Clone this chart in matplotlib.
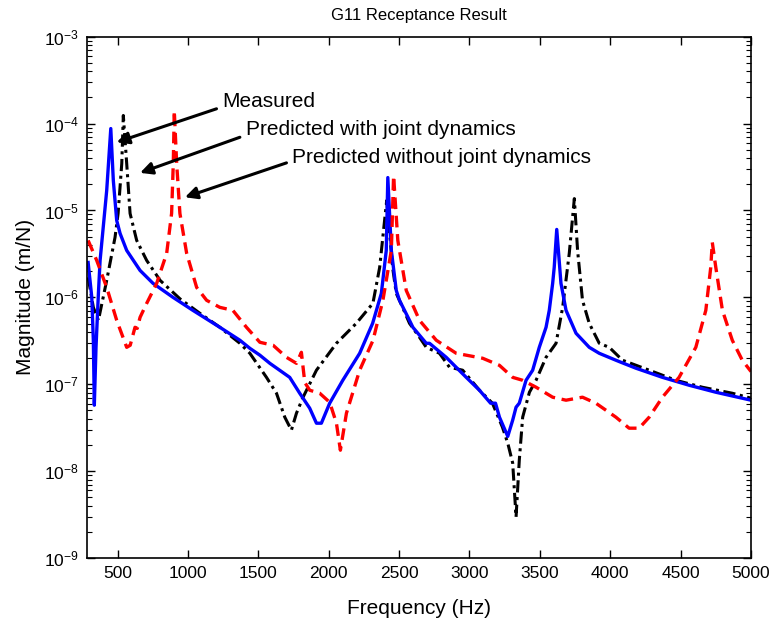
import matplotlib
matplotlib.use("Agg")
import matplotlib.pyplot as plt
from matplotlib.ticker import LogLocator, FixedLocator, NullFormatter

plt.rcParams['font.family'] = ['Liberation Sans', 'DejaVu Sans']
plt.rcParams['mathtext.default'] = 'regular'

# Measured (black dash-dot)
meas_f = [291, 328, 364, 423, 482, 504, 530, 541, 565, 589, 636, 707, 802, 944, 1085, 1227,
          1369, 1440, 1558, 1629, 1688, 1735, 1771, 1818, 1913, 2055, 2196, 2314, 2362, 2397,
          2412, 2433, 2454, 2480, 2525, 2574, 2645, 2693, 2787, 2858, 2952, 3071, 3163, 3234,
          3272, 3307, 3331, 3354, 3378, 3426, 3473, 3544, 3615, 3662, 3709, 3745, 3768, 3803,
          3851, 3922, 3993, 4087, 4277, 4466, 4654, 4867, 5000]
meas_m = [1.70e-6, 7.67e-7, 5.44e-7, 1.57e-6, 4.89e-6, 9.24e-6, 3.47e-5, 1.24e-4, 3.47e-5,
          9.24e-6, 4.52e-6, 2.66e-6, 1.57e-6, 9.60e-7, 6.55e-7, 4.52e-7, 2.96e-7, 2.27e-7,
          1.20e-7, 7.88e-8, 4.18e-8, 2.96e-8, 4.64e-8, 7.09e-8, 1.45e-7, 2.96e-7, 5.02e-7,
          8.53e-7, 2.21e-6, 7.67e-6, 1.30e-5, 5.44e-6, 2.21e-6, 1.11e-6, 7.67e-7, 5.02e-7,
          3.47e-7, 2.66e-7, 2.27e-7, 1.57e-7, 1.45e-7, 8.53e-8, 6.05e-8, 3.21e-8, 2.10e-8,
          1.24e-8, 2.96e-9, 1.34e-8, 4.18e-8, 8.09e-8, 1.11e-7, 2.04e-7, 2.96e-7, 7.67e-7,
          3.21e-6, 1.37e-5, 3.47e-6, 9.24e-7, 5.02e-7, 2.96e-7, 2.66e-7, 1.89e-7, 1.45e-7,
          1.11e-7, 9.24e-8, 7.88e-8, 6.91e-8]

# Predicted with joint dynamics (blue solid)
with_f = [291, 317, 328, 335, 347, 364, 376, 423, 452, 470, 494, 518, 565, 660, 752, 894, 1035,
          1227, 1369, 1440, 1511, 1582, 1723, 1794, 1865, 1913, 1948, 2007, 2100, 2220, 2312,
          2374, 2409, 2420, 2445, 2480, 2503, 2574, 2598, 2693, 2716, 2835, 2977, 3071, 3150,
          3185, 3213, 3272, 3307, 3331, 3354, 3402, 3449, 3496, 3544, 3567, 3591, 3602, 3620,
          3650, 3686, 3757, 3851, 3922, 4040, 4076, 4182, 4371, 4560, 4750, 5000]
with_m = [2.52e-6, 1.00e-6, 3.21e-7, 5.74e-8, 2.66e-7, 1.11e-6, 2.66e-6, 1.70e-5, 8.76e-5,
          2.21e-5, 7.67e-6, 5.44e-6, 3.47e-6, 2.04e-6, 1.45e-6, 1.00e-6, 7.09e-7, 4.52e-7,
          3.21e-7, 2.59e-7, 2.16e-7, 1.74e-7, 1.20e-7, 7.88e-8, 5.30e-8, 3.56e-8, 3.56e-8,
          6.05e-8, 1.11e-7, 2.27e-7, 5.02e-7, 1.11e-6, 3.47e-6, 2.39e-5, 3.47e-6, 1.20e-6,
          9.24e-7, 5.44e-7, 4.52e-7, 2.96e-7, 2.96e-7, 2.04e-7, 1.20e-7, 8.53e-8, 6.05e-8,
          6.05e-8, 4.18e-8, 2.51e-8, 3.86e-8, 5.44e-8, 6.05e-8, 1.11e-7, 1.45e-7, 2.66e-7,
          4.52e-7, 7.09e-7, 1.45e-6, 2.21e-6, 6.05e-6, 1.45e-6, 7.09e-7, 3.86e-7, 2.66e-7,
          2.27e-7, 1.89e-7, 1.79e-7, 1.53e-7, 1.20e-7, 9.74e-8, 8.09e-8, 6.55e-8]

# Predicted without joint dynamics (red dashed)
without_f = [291, 352, 423, 494, 565, 590, 624, 640, 660, 707, 778, 849, 884, 896, 903, 920, 943,
             991, 1062, 1133, 1227, 1319, 1416, 1511, 1605, 1700, 1771, 1806, 1830, 1865, 1936,
             2007, 2055, 2083, 2126, 2220, 2315, 2385, 2445, 2461, 2491, 2551, 2645, 2764, 2906,
             3094, 3213, 3307, 3378, 3473, 3591, 3686, 3803, 3898, 4040, 4134, 4205, 4277, 4371,
             4489, 4608, 4679, 4714, 4725, 4750, 4797, 4867, 4938, 5000]
without_m = [4.52e-6, 2.66e-6, 1.30e-6, 5.44e-7, 2.66e-7, 2.81e-7, 4.52e-7, 4.40e-7, 5.89e-7,
             8.53e-7, 1.45e-6, 3.21e-6, 9.24e-6, 3.47e-5, 1.41e-4, 3.47e-5, 9.24e-6, 3.21e-6,
             1.30e-6, 9.24e-7, 7.67e-7, 7.09e-7, 4.52e-7, 3.04e-7, 2.81e-7, 2.04e-7, 1.74e-7,
             2.33e-7, 1.05e-7, 8.53e-8, 7.88e-8, 6.20e-8, 3.56e-8, 1.74e-8, 4.64e-8, 1.45e-7,
             3.21e-7, 9.24e-7, 3.47e-6, 2.52e-5, 4.52e-6, 1.20e-6, 5.44e-7, 3.21e-7, 2.27e-7,
             1.99e-7, 1.65e-7, 1.20e-7, 1.11e-7, 9.24e-8, 7.09e-8, 6.55e-8, 7.09e-8, 6.05e-8,
             4.18e-8, 3.12e-8, 3.12e-8, 4.18e-8, 7.09e-8, 1.20e-7, 2.66e-7, 7.09e-7, 2.21e-6,
             4.29e-6, 2.21e-6, 7.09e-7, 3.21e-7, 1.89e-7, 1.40e-7]

x_ticks = [500, 1000, 1500, 2000, 2500, 3000, 3500, 4000, 4500, 5000]
labels = ["Measured", "Predicted with joint dynamics", "Predicted without joint dynamics"]

fig = plt.figure(figsize=(7.73, 6.19), dpi=100)
ax = fig.add_axes([87/773, 1 - 558/619, (751-87)/773, (558-36.7)/619])

ax.plot(meas_f, meas_m, color='black', lw=2.2, dashes=(4, 1.5, 1, 1.5))
ax.plot(with_f, with_m, color='blue', lw=2.4, solid_joinstyle='round')
ax.plot(without_f, without_m, color='red', lw=2.4, dashes=(3.5, 2))

ax.set_yscale('log')
ax.set_xlim(283, 5000)
ax.set_ylim(1e-9, 1e-3)
ax.xaxis.set_major_locator(FixedLocator(x_ticks))
ax.set_xticklabels([str(t) for t in x_ticks])
ax.yaxis.set_major_locator(LogLocator(base=10, numticks=10))
ax.yaxis.set_minor_locator(LogLocator(base=10, subs=range(2, 10), numticks=20))
ax.yaxis.set_minor_formatter(NullFormatter())
ax.xaxis.get_offset_text().set_visible(False)
ax.yaxis.get_offset_text().set_visible(False)

ax.tick_params(which='major', direction='in', length=6, width=1.0, top=True, right=True,
               labelsize=12.5, pad=6)
ax.tick_params(which='minor', direction='in', length=3.5, width=0.8, top=True, right=True)
for s in ax.spines.values():
    s.set_linewidth(1.2)

ax.set_xlabel("Frequency (Hz)", fontsize=15, labelpad=13)
ax.set_ylabel("Magnitude (m/N)", fontsize=15)
ax.yaxis.set_label_coords(-0.079, 0.5)
ax.set_title("G11 Receptance Result", fontsize=12, pad=12)

arrow_kw = dict(arrowstyle='-|>', color='black', lw=2.2, mutation_scale=18, shrinkA=0, shrinkB=0)
ax.annotate('', xy=(494, 6.10e-5), xytext=(1203, 1.48e-4), arrowprops=arrow_kw)
ax.annotate('', xy=(660, 2.71e-5), xytext=(1369, 6.96e-5), arrowprops=arrow_kw)
ax.annotate('', xy=(979, 1.42e-5), xytext=(1700, 3.53e-5), arrowprops=arrow_kw)
ax.text(1241, 1.79e-4, labels[0], fontsize=15, ha='left', va='center')
ax.text(1411, 8.53e-5, labels[1], fontsize=15, ha='left', va='center')
ax.text(1742, 4.07e-5, labels[2], fontsize=15, ha='left', va='center')

fig.savefig("out.png", dpi=100)
